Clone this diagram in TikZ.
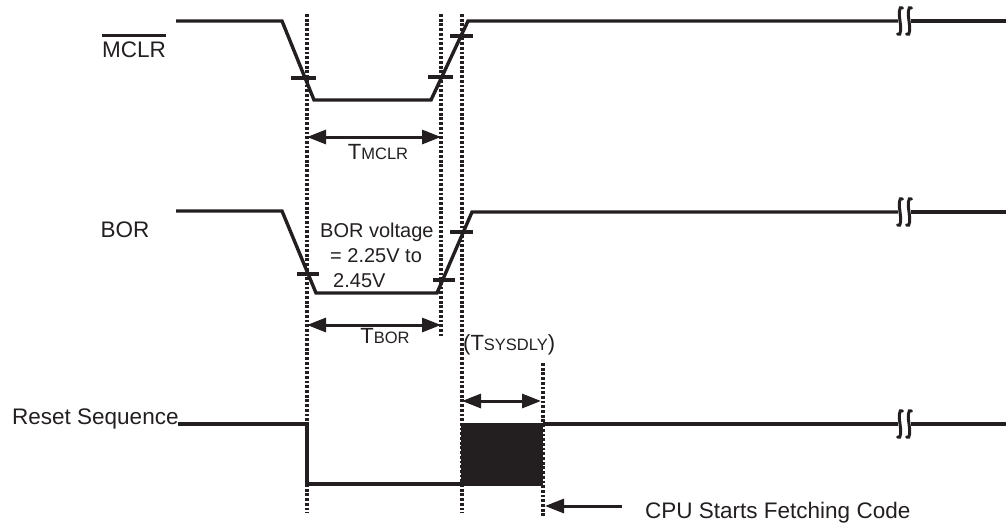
\documentclass[tikz,border=0pt]{standalone}
\usepackage{fontspec}
\setmainfont{Liberation Sans}
\usetikzlibrary{arrows.meta}
\definecolor{ink}{HTML}{231F20}
\newcommand\tlab[2]{{\fontsize{22}{26}\selectfont #1}{\fontsize{16.5}{19}\selectfont #2}}
\begin{document}
\begin{tikzpicture}[x=1pt,y=-1pt,
  sig/.style={ink,line width=3.4pt,line join=miter},
  tickmark/.style={ink,line width=3.2pt},
  guide/.style={ink,line width=3.4pt,dash pattern=on 2.8pt off 1.9pt},
  dim/.style={ink,line width=3pt,{Triangle[length=19pt,width=14pt]}-{Triangle[length=19pt,width=14pt]}},
  onearrow/.style={ink,line width=3pt,-{Triangle[length=19pt,width=14pt]}},
  lbl/.style={text=ink,inner sep=0pt,font=\fontsize{22.5}{27}\selectfont},
  note/.style={text=ink,inner sep=0pt,font=\fontsize{20}{24}\selectfont},
  tl/.style={text=ink,inner sep=0pt},
  brk/.style={ink,line width=3pt,line cap=round},
]
\useasboundingbox (0,0) rectangle (1006,525);

% guide coordinates
\coordinate (g1t) at (307,14);  \coordinate (g1b) at (307,513);
\coordinate (g2t) at (441,14);  \coordinate (g2b) at (441,337);
\coordinate (g3t) at (462,14);  \coordinate (g3b) at (462,513);
\coordinate (g4t) at (543,363); \coordinate (g4b) at (543,517);
\draw[guide] (g1t) -- (g1b);
\draw[guide] (g2t) -- (g2b);
\draw[guide] (g3t) -- (g3b);
\draw[guide] (g4t) -- (g4b);

% MCLR signal
\draw[sig] (176,21) -- (282,21) -- (314,100) -- (431,100) -- (468,21) -- (898,21);
\draw[sig] (911,21) -- (1006,21);
\draw[tickmark] (291,78) -- (316,78);
\draw[tickmark] (428,77) -- (453,77);
\draw[tickmark] (450,36) -- (473,36);

% BOR signal
\draw[sig] (176,211) -- (282,211) -- (316,293) -- (437,293) -- (472,212) -- (898,212);
\draw[sig] (911,212) -- (1006,212);
\draw[tickmark] (297,274) -- (319,274);
\draw[tickmark] (433,280) -- (455,280);
\draw[tickmark] (450,232) -- (473,232);

% Reset sequence
\draw[sig] (178,424) -- (307,424) -- (307,484) -- (462,484);
\fill[ink] (461,423) rectangle (543,486);
\draw[sig] (543,424) -- (898,424);
\draw[sig] (911,424) -- (1006,424);

% break marks
\foreach \yy in {21,212,424} {
  \foreach \xx in {900,909} {
    \draw[brk] ({\xx+2.5},{\yy-13}) .. controls ({\xx-1.5},{\yy-16}) and ({\xx-1},{\yy-6}) .. (\xx,\yy)
      .. controls ({\xx+1},{\yy+6}) and ({\xx+1.5},{\yy+16}) .. ({\xx-2.5},{\yy+13});
  }
}

% dimension arrows
\coordinate (a1l) at (307,137); \coordinate (a1r) at (441,137);
\coordinate (a2l) at (307,325); \coordinate (a2r) at (441,325);
\coordinate (a3l) at (462,401); \coordinate (a3r) at (541,401);
\draw[dim] (a1l) -- (a1r);
\draw[dim] (a2l) -- (a2r);
\draw[dim] (a3l) -- (a3r);
\coordinate (cpus) at (622,506); \coordinate (cpue) at (545,506);
\draw[onearrow] (cpus) -- (cpue);

% labels
\node[lbl] (mclr) at (134,50) {MCLR};
\draw[ink,line width=2.8pt] ([yshift=6pt]mclr.north west) -- ([yshift=6pt]mclr.north east);
\node[lbl] (bor) at (125,230) {BOR};
\node[lbl,anchor=base west] (rst) at (12,424) {Reset Sequence};
\node[lbl,anchor=base west] (cpu) at (645,518) {CPU Starts Fetching Code};
\node[tl,anchor=base] (tm) at (378,159) {\tlab{T}{MCLR}};
\node[tl,anchor=base] (tb) at (385,343) {\tlab{T}{BOR}};
\node[tl,anchor=base west] (ts) at (463,350) {\tlab{(T}{SYSDLY}{\fontsize{22}{26}\selectfont)}};
\node[note,anchor=base west] (bv1) at (320,237) {BOR voltage};
\node[note,anchor=base west] (bv2) at (330,262) {= 2.25V to};
\node[note,anchor=base west] (bv3) at (333,287) {2.45V};
\end{tikzpicture}
\end{document}
